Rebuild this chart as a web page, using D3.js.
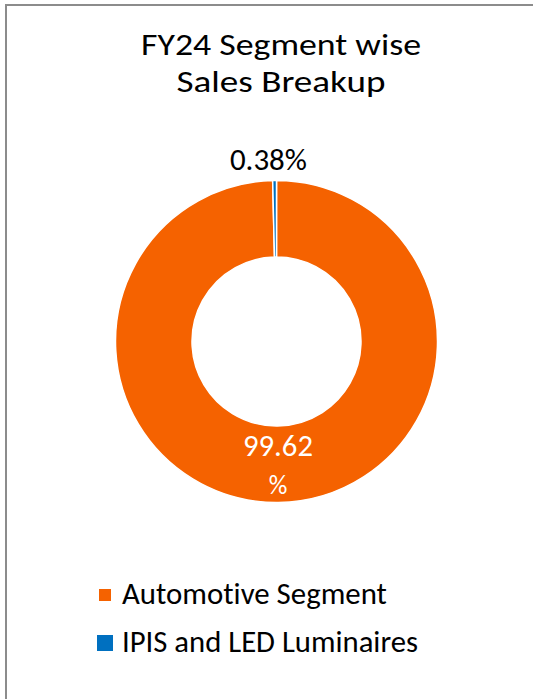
<!DOCTYPE html>
<html>
<head>
<meta charset="utf-8">
<script src="https://cdn.jsdelivr.net/npm/d3@7"></script>
<style>
  body { margin: 0; background: #fff; }
  svg text { font-family: Carlito, Lato, "Open Sans", sans-serif; font-variant-ligatures: none; }
</style>
</head>
<body>
<script>
// data
var segments = ['Automotive Segment', 'IPIS and LED Luminaires'];
var shares = [99.62, 0.38];
var colors = ['#F56200', '#0070C0'];
var titleLines = ['FY24 Segment wise', 'Sales Breakup'];

var width = 533;
var height = 699;
var svg = d3.select('body').append('svg').attr('width', width).attr('height', height);

// frame (right and bottom edges run off the picture)
svg.append('rect')
    .attr('x', 6).attr('y', 5)
    .attr('width', 560).attr('height', 720)
    .attr('fill', 'none')
    .attr('stroke', '#8c8c8c')
    .attr('stroke-width', 2);

// squeeze a text to the width it has in the reference (Calibri is narrow)
function fit(sel, w) {
    var len = sel.node().getComputedTextLength();
    if (len > w) {
        sel.attr('textLength', w).attr('lengthAdjust', 'spacingAndGlyphs');
    } else {
        sel.attr('font-size', parseFloat(sel.attr('font-size')) * w / len);
    }
}

// title: two lines, size capped so the line boxes stay apart
var titleY = [55, 92];
var titleW = [280, 209];
titleLines.forEach(function (t, i) {
    svg.append('text')
        .attr('x', 281)
        .attr('y', titleY[i])
        .attr('text-anchor', 'middle')
        .attr('font-size', 30.3)
        .attr('textLength', titleW[i])
        .attr('lengthAdjust', 'spacingAndGlyphs')
        .attr('fill', '#000')
        .text(t);
});

// donut
var cx = 276.5, cy = 341.5;
var outerR = 161, innerR = 84.5;
var g = svg.append('g').attr('transform', 'translate(' + cx + ',' + cy + ')');

var pie = d3.pie().sort(null).value(function (d) { return d; });
var arcs = pie(shares);
var arc = d3.arc().innerRadius(innerR).outerRadius(outerR);

g.selectAll('path')
    .data(arcs)
    .enter()
    .append('path')
    .attr('d', arc)
    .attr('fill', function (d, i) { return colors[i]; })
    .attr('stroke', '#fff')
    .attr('stroke-width', 1.5);

// big slice label sits inside the ring, split on two lines
var c0 = arc.centroid(arcs[0]);
var v0 = g.append('text')
    .attr('x', c0[0])
    .attr('y', c0[1] - 8)
    .attr('text-anchor', 'middle')
    .attr('font-size', 26)
    .attr('fill', '#fff')
    .text(d3.format('.2f')(shares[0]));
fit(v0, 70);
g.append('text')
    .attr('x', c0[0])
    .attr('y', c0[1] + 30)
    .attr('text-anchor', 'middle')
    .attr('font-size', 26)
    .attr('fill', '#fff')
    .text('%');

// tiny slice label goes outside, above the ring
var outArc = d3.arc().innerRadius(outerR + 18).outerRadius(outerR + 18);
var c1 = outArc.centroid(arcs[1]);
var lbl1 = g.append('text')
    .attr('x', c1[0] - 6)
    .attr('y', c1[1] + 7)
    .attr('text-anchor', 'middle')
    .attr('font-size', 26)
    .attr('fill', '#000')
    .text(d3.format('.2f')(shares[1]) + '%');
fit(lbl1, 77);

// legend
var legY = [604, 652];
var legW = [265, 296];
var boxSize = [12, 16];
segments.forEach(function (s, i) {
    var bs = boxSize[i];
    svg.append('rect')
        .attr('x', 105 - bs / 2)
        .attr('y', legY[i] - 9 - bs / 2)
        .attr('width', bs)
        .attr('height', bs)
        .attr('fill', colors[i]);
    var t = svg.append('text')
        .attr('x', 122)
        .attr('y', legY[i])
        .attr('font-size', 26)
        .attr('fill', '#000')
        .text(s);
    fit(t, legW[i]);
});
</script>
</body>
</html>
